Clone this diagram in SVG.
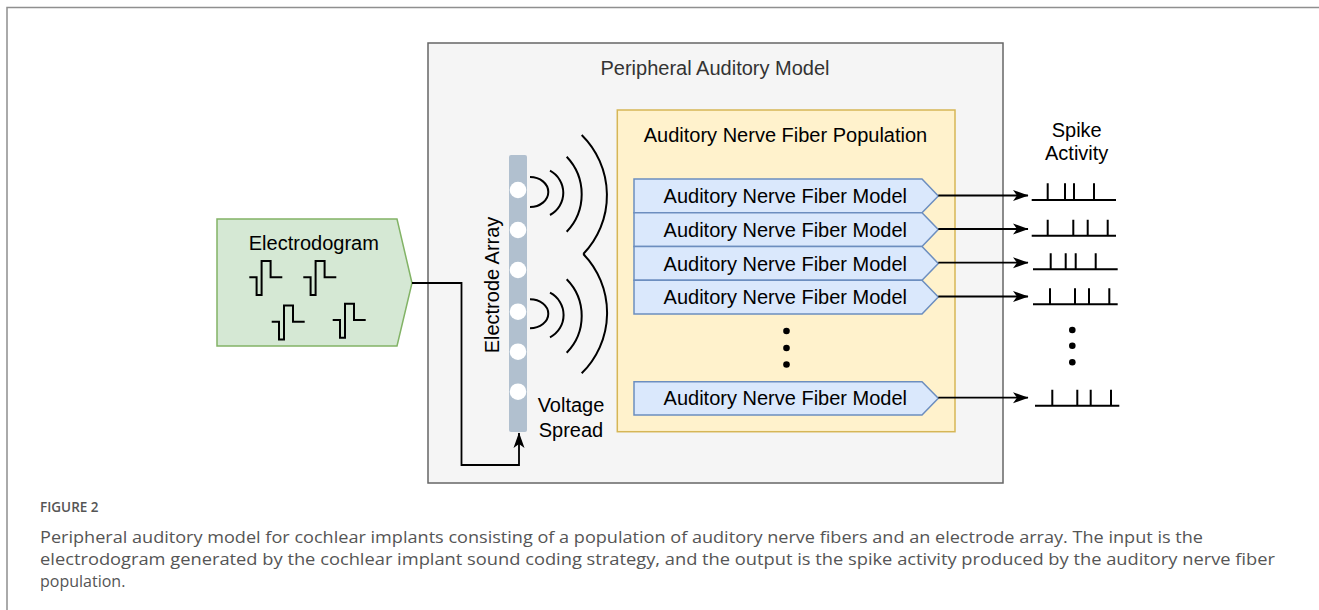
<svg xmlns="http://www.w3.org/2000/svg" width="1319" height="610" viewBox="0 0 1319 610">
<defs>
<style>
.lbl{font-family:"Liberation Sans",Arial,sans-serif;font-size:20px;fill:#000;text-anchor:middle}
.ln{fill:none;stroke:#000;stroke-width:2}
.anf{fill:#dae8fc;stroke:#6c8ebf;stroke-width:1.5}
.cap{font-family:"Open Sans",sans-serif;fill:#555}
.dot{fill:#000}
.el{fill:#fff}
</style>
<marker id="ah" viewBox="0 0 16 12" refX="15" refY="6" markerWidth="16" markerHeight="12" markerUnits="userSpaceOnUse" orient="auto">
<path d="M0,0.5 L15.5,6 L0,11.5 L4,6 Z" fill="#000"/>
</marker>
<path id="wave" d="M0,0 h7.3 v17.7 h5 v-34 h9 v16.3 h11.7" fill="none" stroke="#000" stroke-width="2"/>
</defs>
<rect width="1319" height="610" fill="#fff"/>
<path d="M7,610 V7.5 H1319" fill="none" stroke="#8f8f8f" stroke-width="1.5"/>

<g id="peripheral">
<rect x="428" y="43" width="575" height="440" fill="#f5f5f5" stroke="#666" stroke-width="1.5"/>
<text class="lbl" x="715" y="74.5" style="fill:#333">Peripheral Auditory Model</text>
</g>

<g id="population">
<rect x="617.3" y="110" width="337.7" height="321.7" fill="#fff2cc" stroke="#d6b656" stroke-width="1.5"/>
<text class="lbl" x="785.5" y="141.5">Auditory Nerve Fiber Population</text>
</g>

<g id="electrodogram">
<path d="M217,219 H397 L412,283 L397,346 H217 Z" fill="#d5e8d4" stroke="#82b366" stroke-width="1.5"/>
<text class="lbl" x="313.8" y="250">Electrodogram</text>
<use href="#wave" x="249.3" y="277.3"/>
<use href="#wave" x="303.3" y="277.3"/>
<use href="#wave" x="271.7" y="321.7"/>
<use href="#wave" x="332.7" y="320"/>
</g>

<g id="electrode-array">
<rect x="509" y="155" width="18" height="277" rx="2" fill="#b1c0cf"/>
<circle class="el" cx="518" cy="190" r="8.3"/>
<circle class="el" cx="518" cy="230" r="8.3"/>
<circle class="el" cx="518" cy="270" r="8.3"/>
<circle class="el" cx="518" cy="311.7" r="8.3"/>
<circle class="el" cx="518" cy="351.7" r="8.3"/>
<circle class="el" cx="518" cy="391.7" r="8.3"/>
<text class="lbl" transform="translate(499,285) rotate(-90)">Electrode Array</text>
</g>

<g id="voltage-spread">
<path class="ln" d="M530,177 A18.3,15 0 0 1 530,207"/>
<path class="ln" d="M550,170.7 A25.1,25.1 0 0 1 550,215"/>
<path class="ln" d="M566.7,156.7 A54.4,54.4 0 0 1 566.7,231.7"/>
<path class="ln" d="M581.7,135 A84.7,84.7 0 0 1 583.3,254"/>
<path class="ln" d="M530,299.3 A18.3,14.5 0 0 1 530,328.3"/>
<path class="ln" d="M550,292.7 A25.1,25.1 0 0 1 550,337.3"/>
<path class="ln" d="M566.7,279.3 A52.4,52.4 0 0 1 566.7,352.7"/>
<path class="ln" d="M583.3,254 A84.7,84.7 0 0 1 581.7,373.3"/>
<text class="lbl" x="571" y="412">Voltage</text>
<text class="lbl" x="571" y="437">Spread</text>
</g>

<g id="anf1">
<path class="anf" d="M634,179 H922 L938.3,195.9 L922,212.75 H634 Z"/>
<text class="lbl" x="785.3" y="203">Auditory Nerve Fiber Model</text>
</g>
<g id="anf2">
<path class="anf" d="M634,212.75 H922 L938.3,229.6 L922,246.5 H634 Z"/>
<text class="lbl" x="785.3" y="236.7">Auditory Nerve Fiber Model</text>
</g>
<g id="anf3">
<path class="anf" d="M634,246.5 H922 L938.3,263.4 L922,280.25 H634 Z"/>
<text class="lbl" x="785.3" y="270.5">Auditory Nerve Fiber Model</text>
</g>
<g id="anf4">
<path class="anf" d="M634,280.25 H922 L938.3,297.1 L922,314 H634 Z"/>
<text class="lbl" x="785.3" y="304.2">Auditory Nerve Fiber Model</text>
</g>
<g id="anf-dots">
<circle class="dot" cx="786.5" cy="331" r="3.3"/>
<circle class="dot" cx="786.5" cy="348" r="3.3"/>
<circle class="dot" cx="786.5" cy="364.5" r="3.3"/>
</g>
<g id="anf5">
<path class="anf" d="M634,381.7 H922 L938.3,398.3 L922,415 H634 Z"/>
<text class="lbl" x="785.3" y="405.4">Auditory Nerve Fiber Model</text>
</g>

<g id="spike-activity">
<text class="lbl" x="1076.7" y="136.5">Spike</text>
<text class="lbl" x="1076.7" y="159.5">Activity</text>
<path class="ln" d="M1031.7,200 H1116 M1047.7,200 V183.3 M1065,200 V183.3 M1074,200 V183.3 M1094,200 V183.3"/>
<path class="ln" d="M1031.7,235.7 H1116 M1047.7,235.7 V219.7 M1073.3,235.7 V219.7 M1087.7,235.7 V219.7 M1107.7,235.7 V219.7"/>
<path class="ln" d="M1033,269.3 H1117.7 M1050.7,269.3 V253.3 M1065.7,269.3 V253.3 M1075.7,269.3 V253.3 M1095.7,269.3 V253.3"/>
<path class="ln" d="M1033,304.3 H1117.7 M1050,304.3 V288.3 M1075,304.3 V288.3 M1089,304.3 V288.3 M1109.3,304.3 V288.3"/>
<circle class="dot" cx="1072.3" cy="330" r="3.3"/>
<circle class="dot" cx="1072.3" cy="345.7" r="3.3"/>
<circle class="dot" cx="1072.3" cy="362.3" r="3.3"/>
<path class="ln" d="M1035,405.7 H1119.3 M1052.3,405.7 V389.7 M1077.3,405.7 V389.7 M1090.7,405.7 V389.7 M1111,405.7 V389.7"/>
</g>

<g id="connectors" fill="none" stroke="#000" stroke-width="1.8">
<path d="M412,283 H461.5 V465 H519 V433" marker-end="url(#ah)"/>
<path d="M938.3,195.5 H1028" marker-end="url(#ah)"/>
<path d="M938.3,229 H1028" marker-end="url(#ah)"/>
<path d="M938.3,262.7 H1028" marker-end="url(#ah)"/>
<path d="M938.3,296.5 H1028" marker-end="url(#ah)"/>
<path d="M938.3,397.7 H1028" marker-end="url(#ah)"/>
</g>

<g id="caption">
<text class="cap" x="40" y="512" style="font-size:13.5px;font-weight:600">FIGURE 2</text>
<text class="cap" x="40" y="543" style="font-size:16px" textLength="1163" lengthAdjust="spacingAndGlyphs">Peripheral auditory model for cochlear implants consisting of a population of auditory nerve fibers and an electrode array. The input is the</text>
<text class="cap" x="40" y="565" style="font-size:16px" textLength="1235" lengthAdjust="spacingAndGlyphs">electrodogram generated by the cochlear implant sound coding strategy, and the output is the spike activity produced by the auditory nerve fiber</text>
<text class="cap" x="40" y="587" style="font-size:16px">population.</text>
</g>
</svg>
